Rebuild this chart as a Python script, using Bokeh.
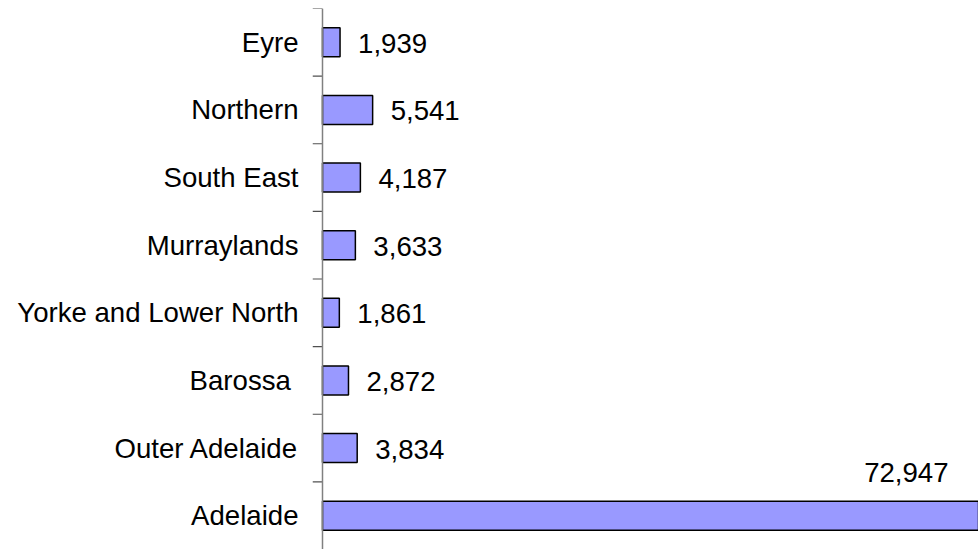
from bokeh.plotting import figure
from bokeh.models import ColumnDataSource, FactorRange, Range1d, Span
from bokeh.transform import dodge
from bokeh.core.properties import value
from bokeh.embed import file_html
from bokeh.resources import INLINE

# data (bottom to top)
regions = ["Adelaide", "Outer Adelaide", "Barossa ", "Yorke and Lower North",
           "Murraylands", "South East", "Northern", "Eyre"]
persons = [72947, 3834, 2872, 1861, 3633, 4187, 5541, 1939]

labels = [f"{v:,}" for v in persons]
max_v = max(persons)
is_max = [v == max_v for v in persons]

src_bars = ColumnDataSource(dict(y=regions, right=persons))
src_lab = ColumnDataSource(dict(
    y=[r for r, m in zip(regions, is_max) if not m],
    x=[v for v, m in zip(persons, is_max) if not m],
    t=[l for l, m in zip(labels, is_max) if not m]))
src_top = ColumnDataSource(dict(
    y=[r for r, m in zip(regions, is_max) if m],
    x=[v for v, m in zip(persons, is_max) if m],
    t=[l for l, m in zip(labels, is_max) if m]))
src_ticks = ColumnDataSource(dict(y=regions))
src_toptick = ColumnDataSource(dict(y=regions[-1:]))

W, H = 978, 549
XMIN, XMAX = -1105, 72500
FONT = "Liberation Sans"
FS = "27.6px"
p = figure(width=W, height=H, output_backend="svg", toolbar_location=None,
           y_range=FactorRange(factors=regions),
           x_range=Range1d(XMIN, XMAX))
p.min_border_left = 312
p.min_border_right = 0
p.min_border_top = 8
p.min_border_bottom = 0
p.outline_line_color = None
p.xgrid.visible = False
p.ygrid.visible = False
p.xaxis.visible = False

p.hbar(y="y", left=0, right="right", height=0.43, source=src_bars,
       fill_color="#9999FF", line_color="#000000", line_width=1.5)

# axis line and boundary ticks
p.add_layout(Span(location=0, dimension="height", line_color="#808080", line_width=1.5))
p.segment(x0=XMIN, x1=0, y0=dodge("y", -0.5, range=p.y_range), y1=dodge("y", -0.5, range=p.y_range),
          source=src_ticks, line_color="#505050", line_width=1.2)
p.segment(x0=XMIN, x1=0, y0=dodge("y", 0.5, range=p.y_range), y1=dodge("y", 0.5, range=p.y_range),
          source=src_toptick, line_color="#505050", line_width=1.2)

p.text(x="x", y="y", text="t", source=src_lab, x_offset=18, y_offset=1,
       text_baseline="middle", text_align="left",
       text_font=value(FONT), text_font_size=FS, text_color="#000000")
p.text(x="x", y="y", text="t", source=src_top, x_offset=-34, y_offset=-43,
       text_baseline="middle", text_align="right",
       text_font=value(FONT), text_font_size=FS, text_color="#000000")

ax = p.yaxis[0]
ax.axis_line_color = None
ax.major_tick_line_color = None
ax.minor_tick_line_color = None
ax.major_tick_out = 0
ax.major_tick_in = 0
ax.major_label_standoff = 14
ax.major_label_text_font = FONT
ax.major_label_text_font_size = FS
ax.major_label_text_color = "#000000"

open("out.html", "w").write(file_html(p, INLINE))
